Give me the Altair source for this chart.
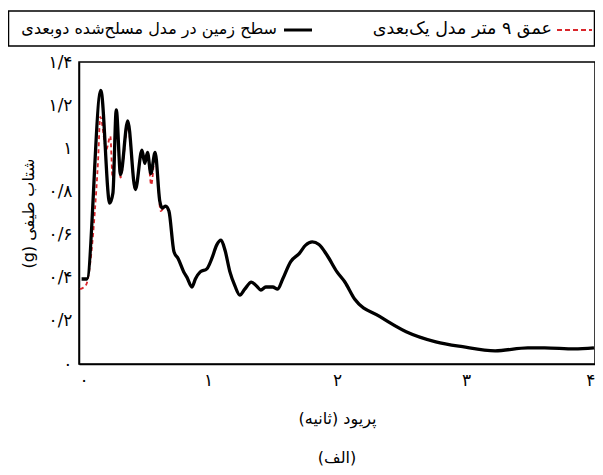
import altair as alt
import pandas as pd

# ---- data ----
period_2d = [0.02, 0.061, 0.169, 0.238, 0.263, 0.289, 0.322, 0.378, 0.437, 0.488, 0.51, 0.531,
             0.557, 0.59, 0.626, 0.646, 0.672, 0.697, 0.736, 0.769, 0.812, 0.835, 0.876, 0.902,
             0.94, 0.991, 1.029, 1.067, 1.101, 1.132, 1.17, 1.208, 1.247, 1.285, 1.336, 1.374,
             1.41, 1.448, 1.502, 1.54, 1.579, 1.64, 1.707, 1.757, 1.808, 1.86, 1.923, 2.0,
             2.061, 2.138, 2.33, 2.536, 2.766, 2.973, 3.226, 3.479, 3.609, 3.839, 3.992]
sa_2d = [0.394, 0.394, 1.268, 0.746, 0.793, 1.178, 0.878, 1.127, 0.808, 0.991, 0.93, 0.981,
         0.883, 0.981, 0.756, 0.723, 0.732, 0.709, 0.521, 0.488, 0.427, 0.404, 0.357, 0.394,
         0.427, 0.441, 0.488, 0.551, 0.574, 0.527, 0.427, 0.363, 0.319, 0.347, 0.380, 0.363,
         0.343, 0.357, 0.357, 0.347, 0.394, 0.474, 0.512, 0.551, 0.566, 0.554, 0.504, 0.427,
         0.380, 0.300, 0.221, 0.150, 0.103, 0.080, 0.061, 0.075, 0.075, 0.070, 0.075]

period_1d = [0.008, 0.054, 0.097, 0.123, 0.148, 0.165, 0.212, 0.243, 0.26, 0.289, 0.322, 0.378,
             0.437, 0.488, 0.51, 0.531, 0.56, 0.59, 0.634, 0.672, 0.697, 0.736, 0.769, 0.812,
             0.835, 0.876, 0.902, 0.94, 0.991, 1.029, 1.067, 1.101, 1.132, 1.17, 1.208, 1.247,
             1.285, 1.336, 1.374, 1.41, 1.448, 1.502, 1.54, 1.579, 1.64, 1.707, 1.757, 1.808,
             1.86, 1.923, 2.0, 2.061, 2.138, 2.33, 2.536, 2.766, 2.973, 3.226, 3.479, 3.609,
             3.839, 3.992]
sa_1d = [0.347, 0.366, 0.521, 0.709, 0.944, 1.146, 0.995, 1.056, 0.864, 1.146, 0.864, 1.1,
         0.808, 0.991, 0.93, 0.981, 0.83, 0.967, 0.709, 0.732, 0.709, 0.521, 0.488, 0.427,
         0.404, 0.357, 0.394, 0.427, 0.441, 0.488, 0.551, 0.574, 0.527, 0.427, 0.363, 0.319,
         0.347, 0.380, 0.363, 0.343, 0.357, 0.357, 0.347, 0.394, 0.474, 0.512, 0.551, 0.566,
         0.554, 0.504, 0.427, 0.380, 0.300, 0.221, 0.150, 0.103, 0.080, 0.061, 0.075, 0.075,
         0.070, 0.075]

x_ticks = [0, 1, 2, 3, 4]
x_tick_labels = ["۰", "۱", "۲", "۳", "۴"]
y_ticks = [0, 0.2, 0.4, 0.6, 0.8, 1.0, 1.2, 1.4]
y_tick_labels = ["۰", "۰/۲", "۰/۴", "۰/۶", "۰/۸", "۱", "۱/۲", "۱/۴"]

legend_1d = "عمق ۹ متر مدل یک\u200cبعدی"
legend_2d = "سطح زمین در مدل مسلح\u200cشده دوبعدی"
x_title = "پریود (ثانیه)"
y_title = "(g) شتاب طیفی"
caption = "(الف)"

FONT = "DejaVu Sans"
RED = "#d9262b"

df2d = pd.DataFrame({"T": period_2d, "Sa": sa_2d})
df1d = pd.DataFrame({"T": period_1d, "Sa": sa_1d})
one = pd.DataFrame({"k": [0]})

x_expr = "[" + ",".join(f"'{s}'" for s in x_tick_labels) + "][round(datum.value)]"
y_expr = "[" + ",".join(f"'{s}'" for s in y_tick_labels) + "][round(datum.value*5)]"

x_enc = alt.X("T:Q", scale=alt.Scale(domain=[0, 4], nice=False),
              axis=alt.Axis(values=x_ticks, labelExpr=x_expr, ticks=False, grid=False,
                            domainColor="black", domainWidth=1.5,
                            labelFont=FONT, labelFontSize=17, labelColor="black", labelPadding=8,
                            title=x_title, titleFont=FONT, titleFontSize=16,
                            titleFontWeight="normal", titleColor="black", titlePadding=22))
y_enc = alt.Y("Sa:Q", scale=alt.Scale(domain=[0, 1.4], nice=False),
              axis=alt.Axis(values=y_ticks, labelExpr=y_expr, ticks=False, grid=False,
                            domainColor="black", domainWidth=1.5,
                            labelFont=FONT, labelFontSize=17, labelColor="black", labelPadding=7,
                            title=y_title, titleFont=FONT, titleFontSize=16,
                            titleFontWeight="normal", titleColor="black", titlePadding=12))

red_line = alt.Chart(df1d).mark_line(color=RED, strokeDash=[4, 3], strokeWidth=1.8,
                                     interpolate="monotone").encode(x=x_enc, y=y_enc)
black_line = alt.Chart(df2d).mark_line(color="black", strokeWidth=3.3,
                                       interpolate="monotone").encode(x="T:Q", y="Sa:Q")

box = alt.Chart(one).mark_rect(filled=False, stroke="black", strokeWidth=1.5).encode(
    x=alt.value(-70.5), x2=alt.value(515.5), y=alt.value(-51), y2=alt.value(-16))
leg_black_sym = alt.Chart(one).mark_rule(color="black", strokeWidth=3).encode(
    x=alt.value(205), x2=alt.value(233), y=alt.value(-32))
leg_black_txt = alt.Chart(one).mark_text(align="right", baseline="middle", font=FONT,
                                         fontSize=16, color="black").encode(
    x=alt.value(198), y=alt.value(-33), text=alt.value(legend_2d))
leg_red_sym = alt.Chart(one).mark_rule(color=RED, strokeWidth=2, strokeDash=[5, 3]).encode(
    x=alt.value(478), x2=alt.value(513), y=alt.value(-32))
leg_red_txt = alt.Chart(one).mark_text(align="right", baseline="middle", font=FONT,
                                       fontSize=17.5, color="black").encode(
    x=alt.value(473), y=alt.value(-33), text=alt.value(legend_1d))
cap = alt.Chart(one).mark_text(align="center", baseline="middle", font=FONT,
                               fontSize=16, color="black").encode(
    x=alt.value(258), y=alt.value(396), text=alt.value(caption))

chart = alt.layer(red_line, black_line, box, leg_black_sym, leg_black_txt,
                  leg_red_sym, leg_red_txt, cap).properties(
    width=516, height=302,
    autosize=alt.AutoSizeParams(type="none"),
    padding={"left": 71, "top": 54, "right": 0, "bottom": 104},
).configure_view(stroke="black", strokeWidth=1.5)

chart.save("out.html", embed_options={"renderer": "svg", "actions": False})
